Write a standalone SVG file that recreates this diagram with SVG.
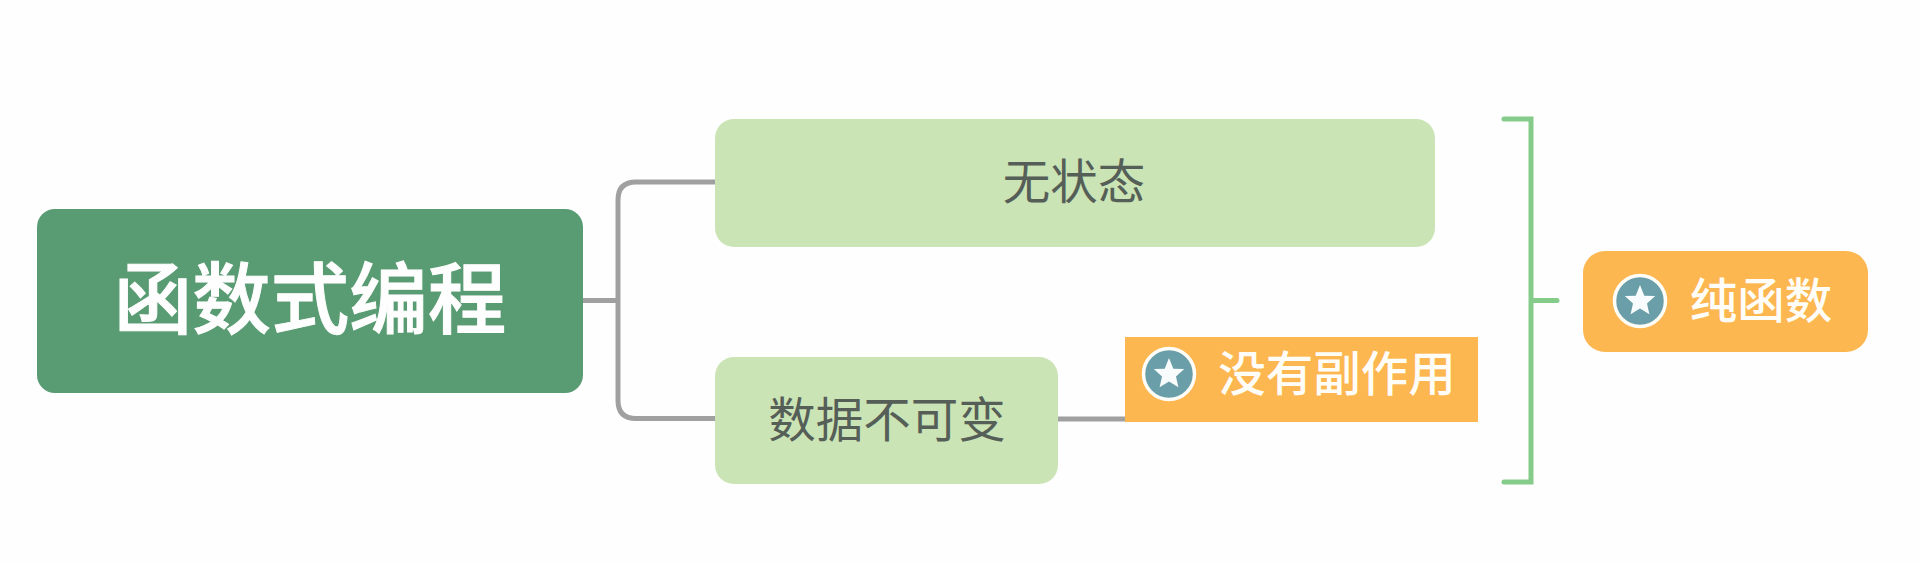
<svg xmlns="http://www.w3.org/2000/svg" width="1920" height="562" viewBox="0 0 1920 562">
<style>
text{font-family:"Noto Sans CJK SC","Noto Sans CJK TC",sans-serif;text-anchor:middle}
.root{fill:#599b72}.sub{fill:#cbe4b5}.tag{fill:#fdb750}
.rt{font-size:78.500px;font-weight:500;fill:#fdfefd;stroke:#fdfefd;stroke-width:1}
.st{font-size:47.500px;font-weight:400;fill:#555f58}
.tt{font-size:47.500px;font-weight:500;fill:#fffdf8}
.line{fill:none;stroke:#a0a0a0;stroke-width:5}
.brace{fill:none;stroke:#85cc8a;stroke-width:5;stroke-linecap:round}
.ring{fill:#6a9ea8;stroke:#fffdf8;stroke-width:3.500}
.star{fill:#f8fcfc}
</style>
<defs>
<g id="icon"><circle class="ring" r="25.500"/><polygon class="star" points="0,-16 4.300,-5.300 15.200,-5 7,2.400 9.400,13.200 0,7.500 -9.400,13.200 -7,2.400 -15.200,-5 -4.300,-5.300"/></g>
</defs>
<rect width="1920" height="562" fill="#fefefe"/>
<g id="connectors">
<path class="line" d="M583 300.500H618"/>
<path class="line" d="M716 182H636Q618 182 618 200V400.500Q618 418.500 636 418.500H716"/>
<path class="line" d="M1058 419H1126"/>
<path class="brace" d="M1504 119H1531V482H1504M1531 300.500H1557"/>
</g>
<g id="root"><rect class="root" x="37" y="209" width="546" height="184" rx="18"/><text class="rt" x="310" y="328">函数式编程</text></g>
<g id="stateless"><rect class="sub" x="715" y="119" width="720" height="128" rx="19"/><text class="st" x="1074" y="199">无状态</text></g>
<g id="immutable"><rect class="sub" x="715" y="357" width="343" height="127" rx="19"/><text class="st" x="887" y="437">数据不可变</text></g>
<g id="no-side-effect"><rect class="tag" x="1125" y="337" width="353" height="85"/><use href="#icon" x="1169" y="374"/><text class="tt" x="1337" y="391">没有副作用</text></g>
<g id="pure-function"><rect class="tag" x="1583" y="251" width="285" height="101" rx="22"/><use href="#icon" x="1640" y="301"/><text class="tt" x="1761" y="318">纯函数</text></g>
</svg>
